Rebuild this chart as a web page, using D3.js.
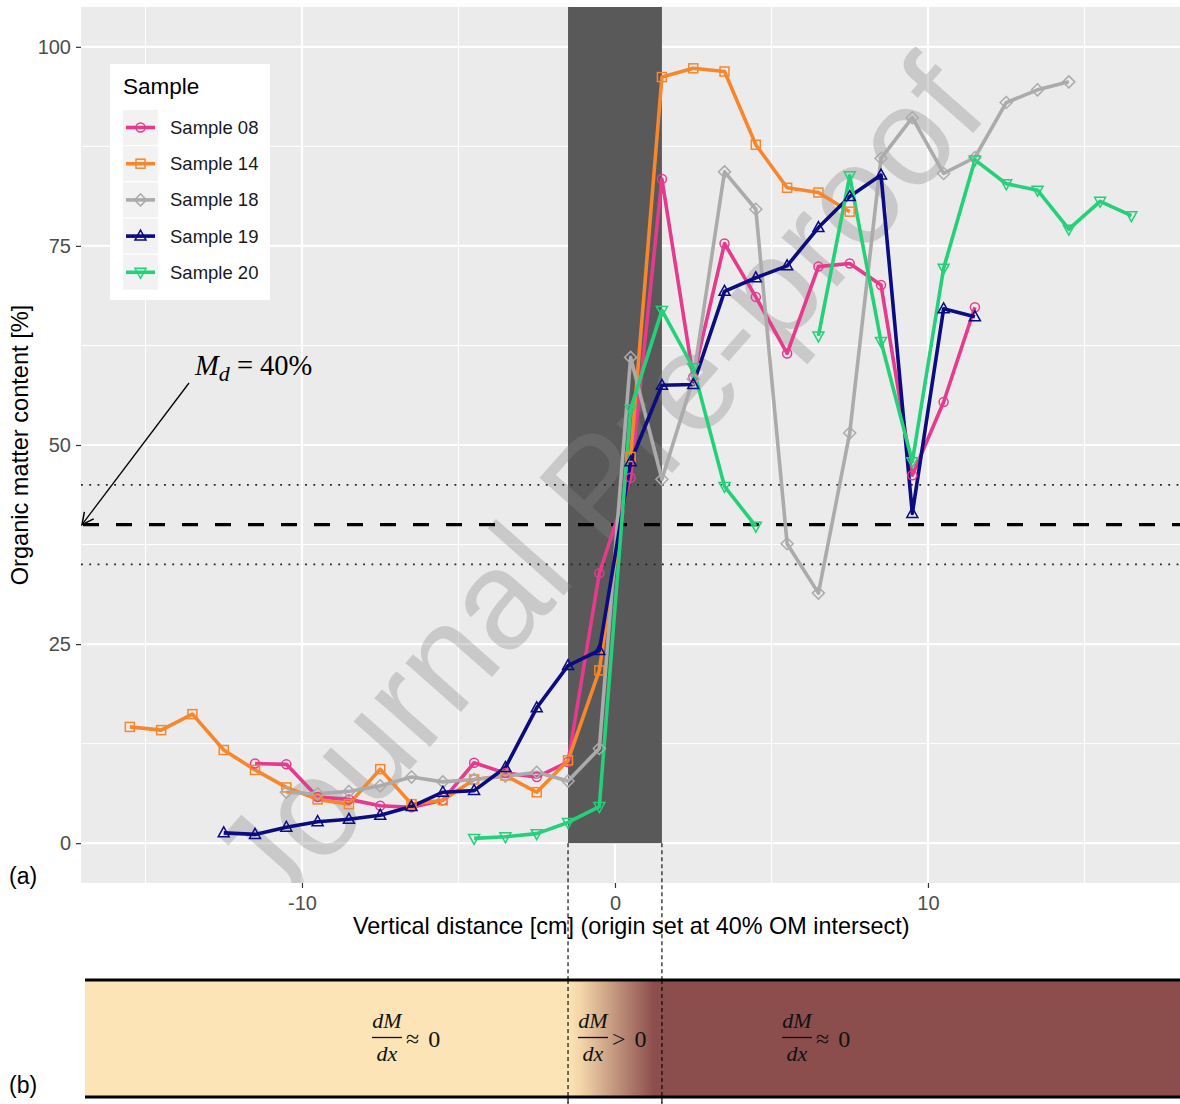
<!DOCTYPE html>
<html>
<head>
<meta charset="utf-8">
<script src="https://cdn.jsdelivr.net/npm/d3@7"></script>
<style>
  html, body { margin: 0; padding: 0; background: #ffffff; }
  svg { display: block; }
  text { font-family: "Liberation Sans", Arial, sans-serif; }
  .serif { font-family: "Liberation Serif", "DejaVu Serif", serif; }
</style>
</head>
<body>
<svg id="chart" width="1180" height="1104"></svg>
<script>
// Vertical distance from the 40 % OM intersect [cm]
const depth08 = [-11.5,-10.5,-9.5,-8.5,-7.5,-6.5,-5.5,-4.5,-3.5,-2.5,-1.5,-0.5,0.5,1.5,2.5,3.5,4.5,5.5,6.5,7.5,8.5,9.5,10.5,11.5];
const om08    = [10.0,9.9,5.8,5.5,4.7,4.5,5.4,10.1,8.8,8.3,10.2,33.9,45.9,83.4,58.5,75.3,68.6,61.5,72.4,72.8,70.1,46.2,55.4,67.3];

const depth14 = [-15.5,-14.5,-13.5,-12.5,-11.5,-10.5,-9.5,-8.5,-7.5,-6.5,-5.5,-4.5,-3.5,-2.5,-1.5,-0.5,0.5,1.5,2.5,3.5,4.5,5.5,6.5,7.5];
const om14    = [14.6,14.2,16.2,11.7,9.2,7.0,5.5,4.9,9.3,4.9,5.4,8.0,8.5,6.4,10.4,21.7,48.5,96.2,97.3,96.9,87.7,82.3,81.7,79.3];

const depth18 = [-10.5,-9.5,-8.5,-7.5,-6.5,-5.5,-4.5,-3.5,-2.5,-1.5,-0.5,0.5,1.5,2.5,3.5,4.5,5.5,6.5,7.5,8.5,9.5,10.5,11.5,12.5,13.5,14.5];
const om18    = [6.4,6.2,6.5,7.2,8.3,7.7,8.0,8.4,8.9,7.8,11.9,61.0,45.7,58.3,84.3,79.6,37.6,31.4,51.5,86.0,91.1,84.1,86.1,93.0,94.6,95.6];

const depth19 = [-12.5,-11.5,-10.5,-9.5,-8.5,-7.5,-6.5,-5.5,-4.5,-3.5,-2.5,-1.5,-0.5,0.5,1.5,2.5,3.5,4.5,5.5,6.5,7.5,8.5,9.5,10.5,11.5];
const om19    = [1.3,1.1,2.0,2.7,3.0,3.5,4.6,6.4,6.6,9.5,17.0,22.3,24.2,47.9,57.5,57.6,69.3,71.0,72.5,77.3,81.2,83.9,41.4,67.1,66.1];

const depth20 = [-4.5,-3.5,-2.5,-1.5,-0.5,0.5,1.5,2.5,3.5,4.5,5.5,6.5,7.5,8.5,9.5,10.5,11.5,12.5,13.5,14.5,15.5,16.5];
const om20    = [0.6,0.8,1.2,2.6,4.6,54.5,66.9,59.7,44.8,39.8,null,63.7,83.8,63.0,47.9,72.2,85.8,82.8,82.0,77.1,80.6,78.8];

const sampleNames  = ["Sample 08","Sample 14","Sample 18","Sample 19","Sample 20"];
const sampleColors = ["#E63B8D","#F7862C","#ABABAB","#0B0B82","#25D07A"];
const sampleShapes = ["circle","square","diamond","triangleUp","triangleDown"];

const xTicks = [-10, 0, 10];
const xMinor = [-15, -5, 5, 15];
const yTicks = [0, 25, 50, 75, 100];
const yMinor = [12.5, 37.5, 62.5, 87.5];

const transitionZone = [-1.5, 1.5];   // shaded band [cm]
const thresholdOM = 40;               // M_d
const thresholdBand = [35, 45];

const series = [
  {name: sampleNames[0], x: depth08, y: om08},
  {name: sampleNames[1], x: depth14, y: om14},
  {name: sampleNames[2], x: depth18, y: om18},
  {name: sampleNames[3], x: depth19, y: om19},
  {name: sampleNames[4], x: depth20, y: om20}
].map((s, i) => ({
  ...s, color: sampleColors[i], shape: sampleShapes[i],
  points: s.x.map((d, j) => ({x: d, y: s.y[j]}))
}));

const svg = d3.select("#chart");
const panel = {left: 81, right: 1181.5, top: 7, bottom: 883};

const x = d3.scaleLinear().domain([-17.06, 18.1]).range([panel.left, panel.right]);
const y = d3.scaleLinear().domain([-5, 105]).range([panel.bottom, panel.top]);

const defs = svg.append("defs");
defs.append("clipPath").attr("id", "panelClip")
  .append("rect").attr("x", panel.left).attr("y", panel.top)
  .attr("width", panel.right - panel.left).attr("height", panel.bottom - panel.top);

// panel background and grid
svg.append("rect").attr("x", panel.left).attr("y", panel.top)
  .attr("width", panel.right - panel.left).attr("height", panel.bottom - panel.top)
  .attr("fill", "#EBEBEB");

const grid = svg.append("g");
grid.selectAll(".ym").data(yMinor).join("line")
  .attr("x1", panel.left).attr("x2", panel.right)
  .attr("y1", d => y(d)).attr("y2", d => y(d))
  .attr("stroke", "#fff").attr("stroke-width", 1);
grid.selectAll(".xm").data(xMinor).join("line")
  .attr("y1", panel.top).attr("y2", panel.bottom)
  .attr("x1", d => x(d)).attr("x2", d => x(d))
  .attr("stroke", "#fff").attr("stroke-width", 1);
grid.selectAll(".yM").data(yTicks).join("line")
  .attr("x1", panel.left).attr("x2", panel.right)
  .attr("y1", d => y(d)).attr("y2", d => y(d))
  .attr("stroke", "#fff").attr("stroke-width", 2.2);
grid.selectAll(".xM").data(xTicks).join("line")
  .attr("y1", panel.top).attr("y2", panel.bottom)
  .attr("x1", d => x(d)).attr("x2", d => x(d))
  .attr("stroke", "#fff").attr("stroke-width", 2.2);

// transition zone
svg.append("rect")
  .attr("x", x(transitionZone[0])).attr("width", x(transitionZone[1]) - x(transitionZone[0]))
  .attr("y", panel.top).attr("height", y(0) - panel.top)
  .attr("fill", "#595959");

// watermark
svg.append("g").attr("clip-path", "url(#panelClip)")
  .append("text")
  .attr("transform", "translate(596,486) rotate(-48.5)")
  .attr("text-anchor", "middle").attr("dominant-baseline", "central")
  .attr("font-size", 140).attr("fill", "rgb(135,135,135)").attr("fill-opacity", 0.33)
  .text("Journal Pre-proof");

// threshold lines
const hl = svg.append("g").attr("clip-path", "url(#panelClip)");
hl.selectAll(".band").data(thresholdBand).join("line")
  .attr("x1", panel.left).attr("x2", panel.right)
  .attr("y1", d => y(d)).attr("y2", d => y(d))
  .attr("stroke", "#222").attr("stroke-width", 1.8).attr("stroke-dasharray", "1.8 6.5");
hl.append("line")
  .attr("x1", panel.left).attr("x2", panel.right)
  .attr("y1", y(thresholdOM)).attr("y2", y(thresholdOM))
  .attr("stroke", "#000").attr("stroke-width", 3.4).attr("stroke-dasharray", "16 17")
  .attr("stroke-dashoffset", -2);

// series lines and markers
const line = d3.line().defined(d => d.y != null).x(d => x(d.x)).y(d => y(d.y));
const symbolSize = 10;
function drawMarker(g, shape, cx, cy, color, s) {
  const h = s / 2;
  if (shape === "circle") {
    g.append("circle").attr("cx", cx).attr("cy", cy).attr("r", h - 0.5)
      .attr("fill", "none").attr("stroke", color).attr("stroke-width", 1.5);
  } else if (shape === "square") {
    g.append("rect").attr("x", cx - h + 0.5).attr("y", cy - h + 0.5).attr("width", s - 1).attr("height", s - 1)
      .attr("fill", "none").attr("stroke", color).attr("stroke-width", 1.5);
  } else {
    let pts;
    if (shape === "diamond") pts = [[cx, cy - h - 1], [cx + h + 1, cy], [cx, cy + h + 1], [cx - h - 1, cy]];
    else if (shape === "triangleUp") pts = [[cx, cy - h - 1], [cx + h + 0.5, cy + h - 1], [cx - h - 0.5, cy + h - 1]];
    else pts = [[cx, cy + h + 1], [cx + h + 0.5, cy - h + 1], [cx - h - 0.5, cy - h + 1]];
    g.append("polygon").attr("points", pts.map(p => p.join(",")).join(" "))
      .attr("fill", "none").attr("stroke", color).attr("stroke-width", 1.5);
  }
}

const plot = svg.append("g").attr("clip-path", "url(#panelClip)");
series.forEach(s => {
  plot.append("path").datum(s.points).attr("d", line)
    .attr("fill", "none").attr("stroke", s.color).attr("stroke-width", 3.6)
    .attr("stroke-linejoin", "round").attr("stroke-linecap", "butt");
});
series.forEach(s => {
  const g = plot.append("g");
  s.points.filter(d => d.y != null).forEach(d => drawMarker(g, s.shape, x(d.x), y(d.y), s.color, symbolSize));
});

// axes
const yAxis = svg.append("g").attr("transform", `translate(${panel.left},0)`)
  .call(d3.axisLeft(y).tickValues(yTicks).tickSize(5).tickPadding(5).tickFormat(d => String(d)));
const xAxis = svg.append("g").attr("transform", `translate(0,${panel.bottom})`)
  .call(d3.axisBottom(x).tickValues(xTicks).tickSize(5).tickPadding(5).tickFormat(d => String(d)));
[yAxis, xAxis].forEach(a => {
  a.select(".domain").remove();
  a.selectAll(".tick line").attr("stroke", "#333").attr("stroke-width", 1.2);
  a.selectAll(".tick text").attr("fill", "#4D4D4D").attr("font-size", 20)
    .attr("font-family", "'Liberation Sans', Arial, sans-serif");
});
xAxis.selectAll(".tick text").attr("dy", "0.85em");

svg.append("text").attr("x", (panel.left + panel.right) / 2).attr("y", 934)
  .attr("text-anchor", "middle").attr("font-size", 23.4).attr("fill", "#000")
  .text("Vertical distance [cm] (origin set at 40% OM intersect)");
svg.append("text").attr("transform", `translate(28,${(panel.top + panel.bottom) / 2}) rotate(-90)`)
  .attr("text-anchor", "middle").attr("font-size", 23.6).attr("fill", "#000")
  .text("Organic matter content [%]");

// legend
const legend = svg.append("g");
legend.append("rect").attr("x", 110).attr("y", 64).attr("width", 160).attr("height", 236).attr("fill", "#fff");
legend.append("text").attr("x", 123).attr("y", 94).attr("font-size", 22.5).attr("fill", "#000").text("Sample");
series.forEach((s, i) => {
  const cy = 127.5 + i * 36.2;
  legend.append("rect").attr("x", 123).attr("y", cy - 17.5).attr("width", 35).attr("height", 35).attr("fill", "#F2F2F2");
  legend.append("line").attr("x1", 126).attr("x2", 155).attr("y1", cy).attr("y2", cy)
    .attr("stroke", s.color).attr("stroke-width", 3.6);
  drawMarker(legend, s.shape, 140.5, cy, s.color, symbolSize);
  legend.append("text").attr("x", 170).attr("y", cy + 6.5).attr("font-size", 18.5).attr("fill", "#1a1a1a").text(s.name);
});

// M_d annotation with arrow
defs.append("marker").attr("id", "arrowHead").attr("viewBox", "0 0 12 12")
  .attr("refX", 11).attr("refY", 6).attr("markerWidth", 14).attr("markerHeight", 14)
  .attr("markerUnits", "userSpaceOnUse").attr("orient", "auto")
  .append("path").attr("d", "M1,1 L11,6 L1,11").attr("fill", "none").attr("stroke", "#000").attr("stroke-width", 1.3);
svg.append("line").attr("x1", 189).attr("y1", 383).attr("x2", x(-17.06) + 1).attr("y2", y(thresholdOM))
  .attr("stroke", "#000").attr("stroke-width", 1.3).attr("marker-end", "url(#arrowHead)");
const md = svg.append("text").attr("class", "serif").attr("x", 195).attr("y", 375).attr("font-size", 28.5).attr("fill", "#000");
md.append("tspan").attr("font-style", "italic").text("M");
md.append("tspan").attr("font-style", "italic").attr("font-size", 22).attr("dy", 6).text("d");
md.append("tspan").attr("dy", -6).text(" = 40%");

// panel tags
svg.append("text").attr("x", 9).attr("y", 884).attr("font-size", 23).attr("fill", "#000").text("(a)");
svg.append("text").attr("x", 9).attr("y", 1093).attr("font-size", 23).attr("fill", "#000").text("(b)");

// zone boundaries carried down to the schematic
svg.selectAll(".zb").data(transitionZone).join("line")
  .attr("x1", d => x(d)).attr("x2", d => x(d)).attr("y1", y(0)).attr("y2", 1104)
  .attr("stroke", "#000").attr("stroke-width", 1.1).attr("stroke-dasharray", "4 3");

// (b) schematic band
const band = {left: 85, right: 1180, top: 980, bottom: 1097};
const grad = defs.append("linearGradient").attr("id", "zoneGrad")
  .attr("gradientUnits", "userSpaceOnUse")
  .attr("x1", x(transitionZone[0])).attr("x2", x(transitionZone[1])).attr("y1", 0).attr("y2", 0);
grad.append("stop").attr("offset", "0%").attr("stop-color", "#FCE4B6");
grad.append("stop").attr("offset", "15%").attr("stop-color", "#F1D3A7");
grad.append("stop").attr("offset", "92%").attr("stop-color", "#8C4D4D");
grad.append("stop").attr("offset", "100%").attr("stop-color", "#8C4D4D");
svg.append("rect").attr("x", band.left).attr("y", band.top).attr("width", band.right - band.left)
  .attr("height", band.bottom - band.top).attr("fill", "url(#zoneGrad)");
svg.selectAll(".bl").data([band.top, band.bottom]).join("line")
  .attr("x1", band.left).attr("x2", band.right).attr("y1", d => d).attr("y2", d => d)
  .attr("stroke", "#000").attr("stroke-width", 3);
svg.selectAll(".zb2").data(transitionZone).join("line")
  .attr("x1", d => x(d)).attr("x2", d => x(d)).attr("y1", band.top).attr("y2", 1104)
  .attr("stroke", "#000").attr("stroke-width", 1.1).attr("stroke-dasharray", "4 3");

// derivative labels
const fracs = [
  {cx: 387, rel: "\u2248 0"},
  {cx: 593, rel: "> 0"},
  {cx: 797, rel: "\u2248 0"}
];
fracs.forEach(f => {
  const g = svg.append("g");
  g.append("text").attr("class", "serif").attr("x", f.cx).attr("y", 1028).attr("text-anchor", "middle")
    .attr("font-size", 22).attr("font-style", "italic").attr("fill", "#111").text("dM");
  g.append("line").attr("x1", f.cx - 15).attr("x2", f.cx + 15).attr("y1", 1037.5).attr("y2", 1037.5)
    .attr("stroke", "#111").attr("stroke-width", 1.3);
  g.append("text").attr("class", "serif").attr("x", f.cx).attr("y", 1061).attr("text-anchor", "middle")
    .attr("font-size", 22).attr("font-style", "italic").attr("fill", "#111").text("dx");
  g.append("text").attr("class", "serif").attr("x", f.cx + 19).attr("y", 1047)
    .attr("font-size", 24).attr("fill", "#111").attr("letter-spacing", 1.5).text(f.rel);
});
</script>
</body>
</html>
